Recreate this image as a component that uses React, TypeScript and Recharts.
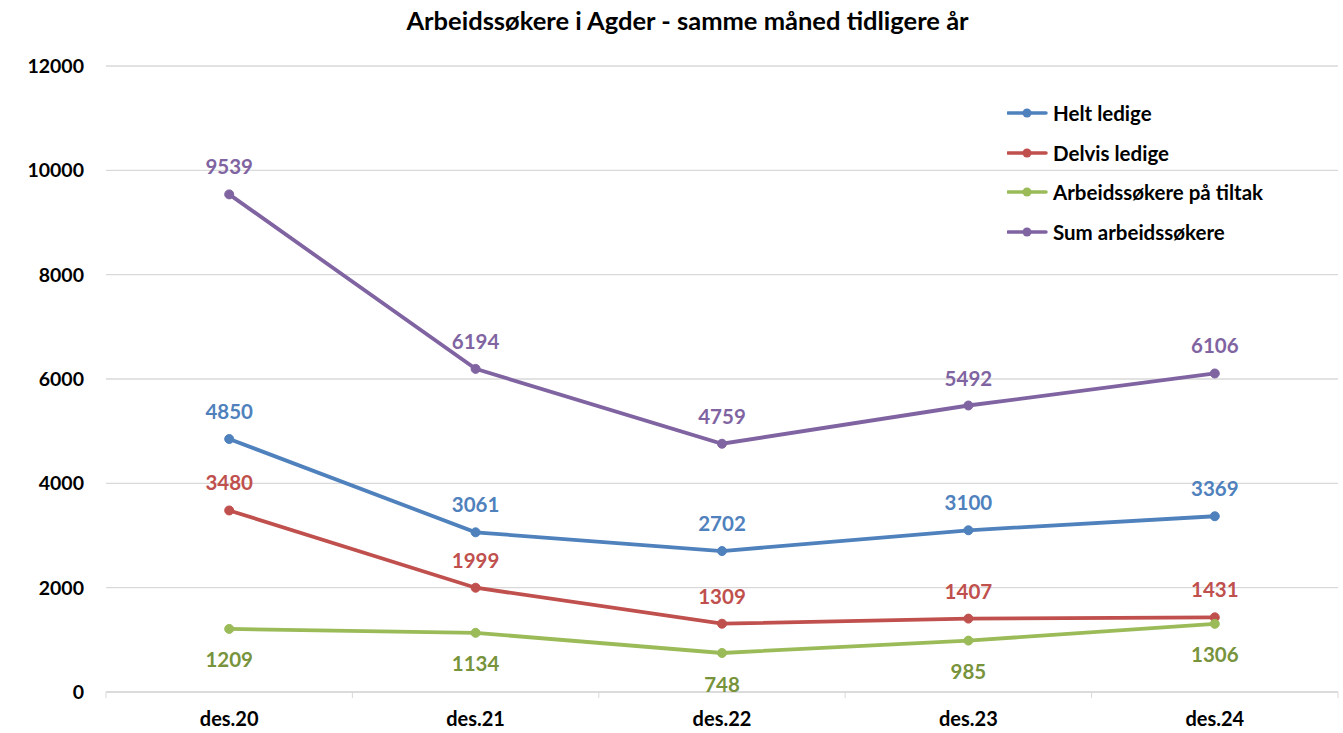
import React from 'react';
import { LineChart, Line, XAxis, YAxis, CartesianGrid, LabelList } from 'recharts';

const months = ['des.20', 'des.21', 'des.22', 'des.23', 'des.24'];
const heltLedige = [4850, 3061, 2702, 3100, 3369];
const delvisLedige = [3480, 1999, 1309, 1407, 1431];
const paTiltak = [1209, 1134, 748, 985, 1306];
const sumArbeidssokere = [9539, 6194, 4759, 5492, 6106];
const yTicks = [0, 2000, 4000, 6000, 8000, 10000, 12000];

const FONT = 'Lato, "Noto Sans", sans-serif';

const series = [
    { key: 'helt', name: 'Helt ledige', color: '#4F81BD', labelColor: '#4F81BD', pos: 'top' },
    { key: 'delvis', name: 'Delvis ledige', color: '#C0504D', labelColor: '#C0504D', pos: 'top' },
    { key: 'tiltak', name: 'Arbeidssøkere på tiltak', color: '#9BBB59', labelColor: '#77933C', pos: 'bottom' },
    { key: 'sum', name: 'Sum arbeidssøkere', color: '#8064A2', labelColor: '#8064A2', pos: 'top' },
];

const data = months.map((m, i) => ({
    name: m,
    helt: heltLedige[i],
    delvis: delvisLedige[i],
    tiltak: paTiltak[i],
    sum: sumArbeidssokere[i],
}));

const WIDTH = 1343;
const HEIGHT = 733;
const LEFT = 106;
const RIGHT = 5;
const STEP = (WIDTH - LEFT - RIGHT) / months.length;

// category tick with the small separator marks Excel draws between categories
const MonthTick = (props: any) => {
    const { x, y, payload, index } = props;
    return (
        <g>
            <line x1={x - STEP / 2} x2={x - STEP / 2} y1={y - 8} y2={y - 2} stroke="#d9d9d9" strokeWidth={1} />
            {index === months.length - 1 && (
                <line x1={x + STEP / 2} x2={x + STEP / 2} y1={y - 8} y2={y - 2} stroke="#d9d9d9" strokeWidth={1} />
            )}
            <text x={x} y={y + 26} textAnchor="middle" fontFamily={FONT} fontWeight={700} fontSize={20} fill="#000">
                {payload.value}
            </text>
        </g>
    );
};

const LegendBox = () => (
    <div
        style={{
            position: 'absolute',
            left: 1007,
            top: 93,
            fontFamily: FONT,
            fontWeight: 700,
            fontSize: 20.5,
            color: '#000',
        }}
    >
        {series.map((s) => (
            <div key={s.key} style={{ display: 'flex', alignItems: 'center', height: 39.7 }}>
                <svg width={44} height={12} style={{ marginRight: 2 }}>
                    <line x1={1} x2={39} y1={6} y2={6} stroke={s.color} strokeWidth={3.5} strokeLinecap="round" />
                    <circle cx={20} cy={6} r={4.5} fill={s.color} />
                </svg>
                <span>{s.name}</span>
            </div>
        ))}
    </div>
);

const App: React.FC = () => {
    return (
        <div style={{ position: 'absolute', left: 0, top: 0, width: WIDTH, height: HEIGHT, background: '#fff' }}>
            <div
                style={{
                    position: 'absolute',
                    top: 5,
                    left: 32,
                    right: 0,
                    textAlign: 'center',
                    fontFamily: FONT,
                    fontWeight: 700,
                    fontSize: 25.5,
                    color: '#000',
                }}
            >
                Arbeidssøkere i Agder - samme måned tidligere år
            </div>
            <LineChart width={WIDTH} height={HEIGHT} data={data} margin={{ top: 66, right: RIGHT, bottom: 0, left: 0 }}>
                <CartesianGrid vertical={false} stroke="#d9d9d9" strokeWidth={1.3} />
                <XAxis
                    dataKey="name"
                    height={41}
                    padding={{ left: STEP / 2, right: STEP / 2 }}
                    axisLine={{ stroke: '#d9d9d9', strokeWidth: 1.3 }}
                    tickLine={false}
                    tick={<MonthTick />}
                    interval={0}
                />
                <YAxis
                    width={LEFT}
                    domain={[0, 12000]}
                    ticks={yTicks}
                    axisLine={false}
                    tickLine={false}
                    tickMargin={16}
                    tick={{ fontFamily: FONT, fontWeight: 700, fontSize: 19.5, fill: '#000' }}
                />
                {series.map((s) => (
                    <Line
                        key={s.key}
                        type="linear"
                        dataKey={s.key}
                        name={s.name}
                        stroke={s.color}
                        strokeWidth={3.8}
                        dot={{ r: 4.5, fill: s.color, stroke: s.color, strokeWidth: 1 }}
                        activeDot={false}
                        isAnimationActive={false}
                    >
                        <LabelList
                            dataKey={s.key}
                            position={s.pos as any}
                            offset={s.pos === 'top' ? 20 : 24}
                            fill={s.labelColor}
                            fontFamily={FONT}
                            fontWeight={700}
                            fontSize={20.5}
                        />
                    </Line>
                ))}
            </LineChart>
            <LegendBox />
        </div>
    );
};

export default App;
